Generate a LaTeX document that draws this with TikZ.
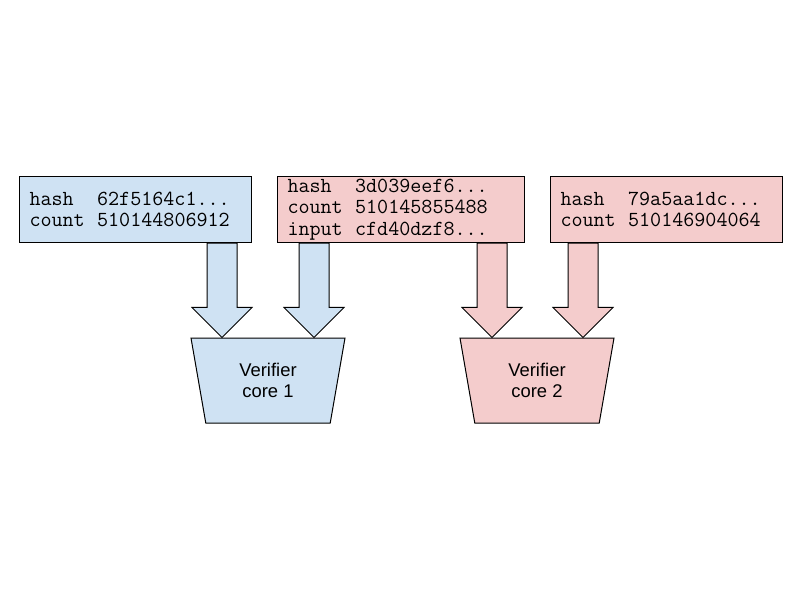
\documentclass[tikz,border=0pt]{standalone}
\usepackage{fontspec}
\setmainfont{Liberation Sans}
\usetikzlibrary{positioning,calc,shapes.geometric}

\definecolor{coreblue}{HTML}{CFE2F3}
\definecolor{corepink}{HTML}{F4CCCC}

% key column is six characters wide
\newcommand{\field}[2]{\makebox[3.15em][l]{#1}#2}

\tikzset{
    state/.style={draw,line width=0.75pt,anchor=north west,minimum height=49.5pt,inner xsep=7.5pt,inner ysep=1pt,align=left,font=\ttfamily\fontsize{16.1}{16}\selectfont},
    core/.style={draw,line width=0.75pt,trapezium,trapezium stretches body,trapezium left angle=108.8,trapezium right angle=108.8,minimum width=115.5pt,minimum height=63.75pt,align=center,font=\fontsize{13.8}{15.75}\selectfont},
    blockarrow/.style={draw,line width=0.75pt,to path={let \p1=(\tikztostart),\p2=(\tikztotarget) in
        (\x1-11.25pt,\y1) -- (\x1-11.25pt,\y2+22.5pt) -- (\x1-22.5pt,\y2+22.5pt) -- (\x2,\y2)
        -- (\x1+22.5pt,\y2+22.5pt) -- (\x1+11.25pt,\y2+22.5pt) -- (\x1+11.25pt,\y1) -- cycle}}
}

\begin{document}
\begin{tikzpicture}[x=0.75pt,y=-0.75pt]
    \useasboundingbox (0,0) rectangle (800,600);

    \node[state,fill=coreblue,text width=159pt] (hash1) at (19,176) {\field{hash}{62f5164c1...}\\\field{count}{510144806912}};
    \node[state,fill=corepink,text width=170.25pt,right=18.75pt of hash1] (hash2) {\field{hash}{3d039eef6...}\\\field{count}{510145855488}\\\field{input}{cfd40dzf8...}};
    \node[state,fill=corepink,text width=159pt,right=18.75pt of hash2] (hash3) {\field{hash}{79a5aa1dc...}\\\field{count}{510146904064}};

    \node[core,fill=coreblue] (core1) at (268,380.5) {Verifier\\core 1};
    \node[core,fill=corepink] (core2) at (537,380.5) {Verifier\\core 2};

    \coordinate (in1) at ($(core1.north)+(-46,0)$);
    \coordinate (in2) at ($(core1.north)+(46,0)$);
    \coordinate (in3) at ($(core2.north)+(-45,0)$);
    \coordinate (in4) at ($(core2.north)+(46,0)$);

    \draw[blockarrow,fill=coreblue] (in1 |- hash1.south) to (in1);
    \draw[blockarrow,fill=coreblue] (in2 |- hash2.south) to (in2);
    \draw[blockarrow,fill=corepink] (in3 |- hash2.south) to (in3);
    \draw[blockarrow,fill=corepink] (in4 |- hash3.south) to (in4);
\end{tikzpicture}
\end{document}
